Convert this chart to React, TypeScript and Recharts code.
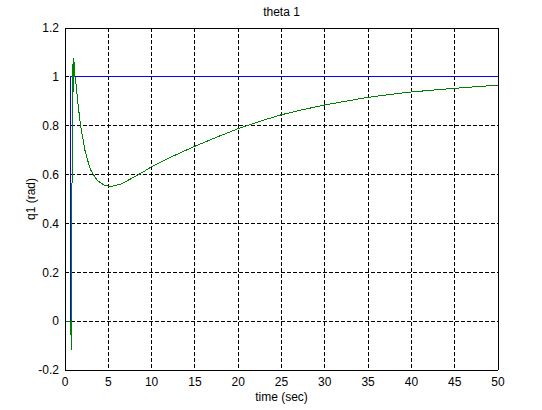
import React from 'react';
import { LineChart, Line, XAxis, YAxis, CartesianGrid, ReferenceLine } from 'recharts';

// reference (commanded) step
const refTime = [0, 0.68, 0.68, 50];
const refAngle = [0, 0, 1, 1];

// joint response q1
const q1Time = [
  0, 0.68, 0.7, 0.75, 0.8, 0.85, 0.95, 1.0, 1.08, 1.15, 1.25, 1.5, 1.8, 2.1, 2.3, 2.6, 2.96, 3.3, 3.7, 4.1, 4.6, 5.3,
  6.5, 8, 9, 10, 12.5, 15, 17.5, 20, 22.5, 25, 27.5, 30, 32.5, 35, 37.5, 40, 42.5, 45, 47.5, 50,
];
const q1Angle = [
  0, 0, -0.075, -0.12, 0.46, 0.98, 1.076, 0.94, 1.06, 1.0, 0.98, 0.889, 0.8, 0.74, 0.7, 0.66, 0.619, 0.598, 0.578, 0.566, 0.556, 0.551,
  0.562, 0.59, 0.61, 0.632, 0.676, 0.716, 0.753, 0.788, 0.818, 0.845, 0.866, 0.885, 0.901, 0.916, 0.928, 0.938, 0.946, 0.953, 0.96, 0.966,
];

const xTicks = [0, 5, 10, 15, 20, 25, 30, 35, 40, 45, 50];
const yTicks = [-0.2, 0, 0.2, 0.4, 0.6, 0.8, 1, 1.2];

const refData = refTime.map((t, i) => ({ t, v: refAngle[i] }));
const q1Data = q1Time.map((t, i) => ({ t, v: q1Angle[i] }));

const font = "'Liberation Sans', Arial, sans-serif";

const App: React.FC = () => {
  return (
    <div style={{ position: 'absolute', left: 0, top: 0, width: 542, height: 410, background: '#fff', fontFamily: font }}>
      <style>{`.recharts-wrapper line, .recharts-wrapper path { shape-rendering: crispEdges; }`}</style>
      <div style={{ position: 'absolute', left: 0, width: 563, top: 5, textAlign: 'center', fontSize: 12, color: '#000' }}>
        theta 1
      </div>
      <div style={{ position: 'absolute', left: 65, width: 433, top: 390, textAlign: 'center', fontSize: 12, color: '#000' }}>
        time (sec)
      </div>
      <div
        style={{
          position: 'absolute',
          left: 31,
          top: 199,
          transform: 'translate(-50%, -50%) rotate(-90deg)',
          whiteSpace: 'nowrap',
          fontSize: 12,
          color: '#000',
        }}
      >
        q1 (rad)
      </div>
      <LineChart
        width={542}
        height={410}
        margin={{ top: 28, right: 44, bottom: 0, left: 0 }}
        style={{ position: 'absolute', left: 0, top: 0 }}
      >
        <CartesianGrid stroke="#000" strokeDasharray="4 2" vertical horizontal />
        <XAxis
          dataKey="t"
          type="number"
          domain={[0, 50]}
          ticks={xTicks}
          height={40}
          tickLine={false}
          tickMargin={1}
          axisLine={{ stroke: '#000' }}
          tick={{ fill: '#000', fontSize: 12, fontFamily: font }}
          allowDuplicatedCategory={false}
        />
        <YAxis
          type="number"
          domain={[-0.2, 1.2]}
          ticks={yTicks}
          width={65}
          tickLine={false}
          tickMargin={0}
          axisLine={{ stroke: '#000' }}
          tick={{ fill: '#000', fontSize: 12, fontFamily: font }}
          tickFormatter={(v: number) => String(Math.round(v * 10) / 10)}
        />
        <Line
          data={refData}
          dataKey="v"
          type="linear"
          stroke="#0000ff"
          strokeWidth={1}
          dot={false}
          isAnimationActive={false}
        />
        <Line
          data={q1Data}
          dataKey="v"
          type="linear"
          stroke="#008000"
          strokeWidth={1}
          dot={false}
          isAnimationActive={false}
        />
        <ReferenceLine y={1.2} stroke="#000" />
        <ReferenceLine x={50} stroke="#000" />
      </LineChart>
    </div>
  );
};

export default App;
